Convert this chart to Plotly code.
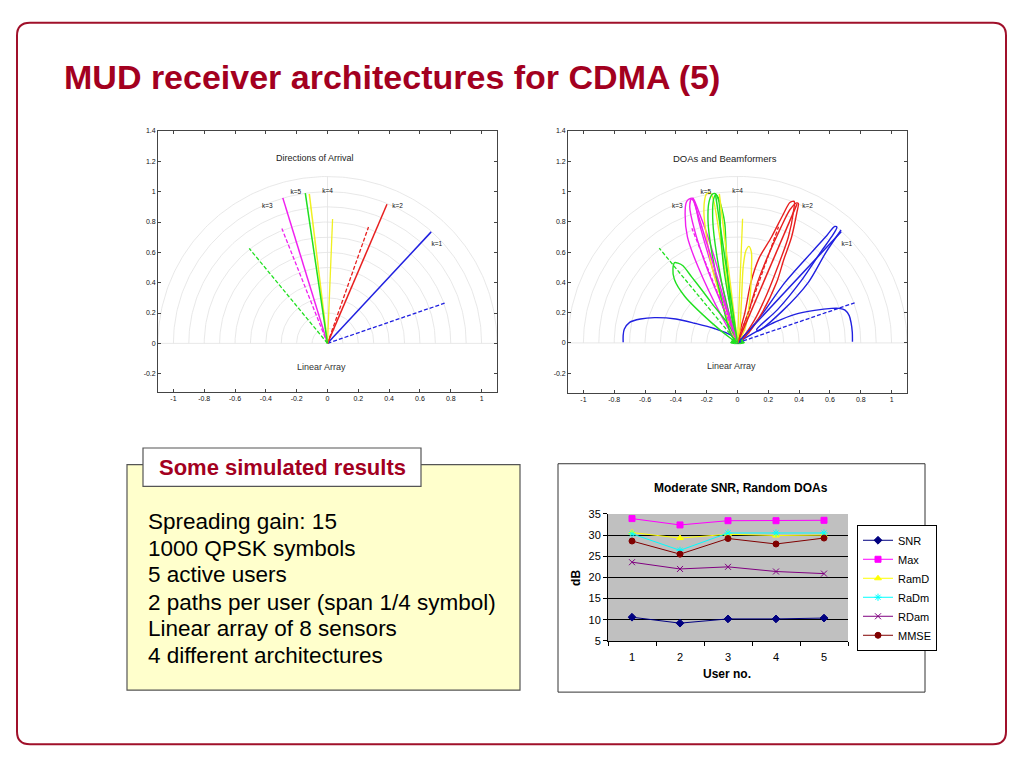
import numpy as np
import plotly.graph_objects as go

# ---------------- data ----------------
TITLE = "MUD receiver architectures for CDMA (5)"

POLAR_X_TICKS = [-1, -0.8, -0.6, -0.4, -0.2, 0, 0.2, 0.4, 0.6, 0.8, 1]
POLAR_X_TEXT = ["-1", "-0.8", "-0.6", "-0.4", "-0.2", "0", "0.2", "0.4", "0.6", "0.8", "1"]
POLAR_Y_TICKS = [-0.2, 0, 0.2, 0.4, 0.6, 0.8, 1, 1.2, 1.4]
POLAR_Y_TEXT = ["-0.2", "0", "0.2", "0.4", "0.6", "0.8", "1", "1.2", "1.4"]
GRID_R = [0.1, 0.2, 0.3, 0.4, 0.5, 0.6, 0.7, 0.8, 0.9, 1.0, 1.1]

USERS = ["k=1", "k=2", "k=3", "k=4", "k=5"]
USER_COLORS = ["#2020e0", "#e82020", "#f020f0", "#f0f020", "#20e020"]
DOA_SOLID_X = [0.673, 0.386, -0.290, -0.118, -0.144]
DOA_SOLID_Y = [0.735, 0.917, 0.959, 0.985, 0.990]
DOA_DASH_X = [0.760, 0.266, -0.296, 0.033, -0.508]
DOA_DASH_Y = [0.265, 0.767, 0.757, 0.820, 0.626]
DOA_DASH_STYLE = ["4px,2px", "4px,2px", "4px,2px", "solid", "4px,2px"]
LABEL_X = [0.71, 0.455, -0.39, 0.0, -0.205]
LABEL_Y = [0.65, 0.90, 0.905, 1.0, 0.995]

# beam pattern outlines (right plot)
BLUE_MAIN_X = [0, 0.09, 0.167, 0.308, 0.482, 0.58, 0.629, 0.645, 0.61, 0.54, 0.42, 0.26, 0.124, 0.135, 0.29, 0.46, 0.575, 0.672]
BLUE_MAIN_Y = [0, 0.10, 0.20, 0.40, 0.60, 0.71, 0.768, 0.765, 0.70, 0.60, 0.42, 0.22, 0.087, 0.08, 0.21, 0.40, 0.60, 0.746]
BLUE_SIDE_R_X = [0.03, 0.113, 0.25, 0.373, 0.5, 0.611, 0.66, 0.698, 0.725, 0.737, 0.745, 0.746]
BLUE_SIDE_R_Y = [0.02, 0.069, 0.14, 0.189, 0.215, 0.228, 0.228, 0.217, 0.18, 0.134, 0.07, 0.008]
BLUE_SIDE_L_X = [0, -0.045, -0.15, -0.278, -0.40, -0.538, -0.63, -0.70, -0.735, -0.742, -0.742]
BLUE_SIDE_L_Y = [0, 0.052, 0.095, 0.130, 0.158, 0.167, 0.158, 0.136, 0.09, 0.048, 0.004]
RED_A_X = [0, 0.048, 0.087, 0.14, 0.221, 0.297, 0.34, 0.368, 0.365, 0.33, 0.26, 0.19, 0.11, 0.03, 0]
RED_A_Y = [0, 0.20, 0.40, 0.56, 0.70, 0.85, 0.928, 0.935, 0.88, 0.70, 0.50, 0.32, 0.15, 0.03, 0]
RED_B_X = [0, 0.07, 0.13, 0.20, 0.28, 0.34, 0.385, 0.395, 0.385, 0.351, 0.30, 0.254, 0.16, 0.05, 0]
RED_B_Y = [0, 0.20, 0.40, 0.58, 0.76, 0.88, 0.925, 0.92, 0.86, 0.70, 0.55, 0.40, 0.20, 0.04, 0]
MAGENTA_A_X = [0, -0.104, -0.256, -0.325, -0.34, -0.332, -0.315, -0.29, -0.278, -0.245, -0.213, -0.126, -0.039, 0]
MAGENTA_A_Y = [0, 0.178, 0.503, 0.70, 0.85, 0.93, 0.95, 0.955, 0.937, 0.85, 0.764, 0.482, 0.134, 0]
MAGENTA_B_X = [0, -0.08, -0.20, -0.28, -0.31, -0.30, -0.28, -0.25, -0.18, -0.10, -0.02, 0]
MAGENTA_B_Y = [0, 0.20, 0.50, 0.75, 0.90, 0.95, 0.93, 0.80, 0.55, 0.30, 0.06, 0]
YELLOW_A_X = [0, -0.03, -0.10, -0.169, -0.217, -0.213, -0.20, -0.175, -0.155, -0.13, -0.10, -0.06, -0.02, 0]
YELLOW_A_Y = [0, 0.06, 0.27, 0.514, 0.84, 0.947, 0.985, 0.99, 0.94, 0.80, 0.60, 0.35, 0.10, 0]
YELLOW_B_X = [0, 0.015, 0.026, 0.037, 0.055, 0.074, 0.09, 0.091, 0.08, 0.048, 0]
YELLOW_B_Y = [0, 0.091, 0.286, 0.503, 0.61, 0.638, 0.60, 0.50, 0.286, 0.091, 0]
GREEN_A_X = [0, -0.039, -0.104, -0.169, -0.191, -0.185, -0.165, -0.148, -0.125, -0.10, -0.082, -0.072, -0.055, -0.039, -0.01, 0]
GREEN_A_Y = [0, 0.048, 0.286, 0.612, 0.80, 0.93, 0.98, 0.988, 0.96, 0.88, 0.785, 0.568, 0.35, 0.178, 0.04, 0]
GREEN_B_X = [0, -0.07, -0.13, -0.16, -0.155, -0.14, -0.12, -0.11, -0.09, -0.05, 0]
GREEN_B_Y = [0, 0.25, 0.55, 0.80, 0.95, 0.98, 0.93, 0.75, 0.50, 0.25, 0]
GREEN_C_X = [0, -0.039, -0.169, -0.343, -0.41, -0.419, -0.408, -0.386, -0.354, -0.299, -0.224, -0.169, -0.072, -0.02, 0]
GREEN_C_Y = [0, 0.026, 0.134, 0.308, 0.42, 0.49, 0.53, 0.527, 0.51, 0.438, 0.34, 0.265, 0.14, 0.05, 0]
GREEN_BASE_X = [-0.045, -0.03, 0, 0.03, 0.045, 0.02, -0.02, -0.045]
GREEN_BASE_Y = [0.0, 0.025, 0.035, 0.025, 0.0, -0.005, -0.005, 0.0]

# Excel chart
USER_NO = [1, 2, 3, 4, 5]
SERIES_NAMES = ["SNR", "Max", "RamD", "RaDm", "RDam", "MMSE"]
SNR = [10.6, 9.2, 10.2, 10.2, 10.4]
MAX = [33.9, 32.4, 33.4, 33.4, 33.5]
RAMD = [30.6, 29.3, 30.2, 29.9, 30.0]
RADM = [30.3, 26.4, 30.5, 30.5, 30.5]
RDAM = [23.6, 22.0, 22.5, 21.4, 20.9]
MMSE = [28.6, 25.5, 29.2, 27.9, 29.3]
SERIES_COLORS = ["#000080", "#ff00ff", "#ffff00", "#00ffff", "#800080", "#800000"]
SERIES_SYMBOLS = ["diamond", "square", "triangle-up", "asterisk-open", "x-thin-open", "circle"]
Y_TICKS = [5, 10, 15, 20, 25, 30, 35]

BOX_LABEL = "Some simulated results"
BOX_LINES = ["Spreading gain: 15", "1000 QPSK symbols", "5 active users",
             "2 paths per user (span 1/4 symbol)", "Linear array of 8 sensors",
             "4 different architectures"]

# ---------------- helpers ----------------
W, H = 1024, 768
FONT = "Liberation Sans, Arial, Helvetica, sans-serif"
DARKRED = "#a3001f"


def PX(x):
    return x / W


def PY(y):
    return 1 - y / H


fig = go.Figure()

# polar grid (semicircles + axes lines)
theta = np.linspace(0, np.pi, 181)
gx, gy = [], []
for r in GRID_R:
    gx += list(r * np.cos(theta)) + [None]
    gy += list(r * np.sin(theta)) + [None]
gx += [0, 0, None, -1.1, 1.1]
gy += [0, 1.1, None, 0, 0]

for xa, ya in [("x", "y"), ("x2", "y2")]:
    fig.add_trace(go.Scatter(x=gx, y=gy, mode="lines", xaxis=xa, yaxis=ya,
                             line=dict(color="#e2e2e2", width=0.8),
                             hoverinfo="skip", showlegend=False))

# right plot lobes
lobes = [
    (BLUE_SIDE_L_X, BLUE_SIDE_L_Y, USER_COLORS[0]),
    (BLUE_SIDE_R_X, BLUE_SIDE_R_Y, USER_COLORS[0]),
    (BLUE_MAIN_X, BLUE_MAIN_Y, USER_COLORS[0]),
    (RED_A_X, RED_A_Y, USER_COLORS[1]),
    (RED_B_X, RED_B_Y, USER_COLORS[1]),
    (MAGENTA_A_X, MAGENTA_A_Y, USER_COLORS[2]),
    (MAGENTA_B_X, MAGENTA_B_Y, USER_COLORS[2]),
    (YELLOW_A_X, YELLOW_A_Y, USER_COLORS[3]),
    (YELLOW_B_X, YELLOW_B_Y, USER_COLORS[3]),
    (GREEN_C_X, GREEN_C_Y, USER_COLORS[4]),
    (GREEN_A_X, GREEN_A_Y, USER_COLORS[4]),
    (GREEN_B_X, GREEN_B_Y, USER_COLORS[4]),
]
for lx, ly, col in lobes:
    fig.add_trace(go.Scatter(x=lx, y=ly, mode="lines", xaxis="x2", yaxis="y2",
                             line=dict(color=col, width=1.4, shape="spline", smoothing=0.8),
                             hoverinfo="skip", showlegend=False))
fig.add_trace(go.Scatter(x=GREEN_BASE_X, y=GREEN_BASE_Y, mode="lines", xaxis="x2", yaxis="y2",
                         fill="toself", fillcolor=USER_COLORS[4],
                         line=dict(color=USER_COLORS[4], width=1),
                         hoverinfo="skip", showlegend=False))

# DOA lines on both plots
for xa, ya in [("x", "y"), ("x2", "y2")]:
    for i in range(len(USERS)):
        fig.add_trace(go.Scatter(x=[0, DOA_DASH_X[i]], y=[0, DOA_DASH_Y[i]], mode="lines",
                                 xaxis=xa, yaxis=ya,
                                 line=dict(color=USER_COLORS[i], width=1.3, dash=DOA_DASH_STYLE[i]),
                                 hoverinfo="skip", showlegend=False))
        fig.add_trace(go.Scatter(x=[0, DOA_SOLID_X[i]], y=[0, DOA_SOLID_Y[i]], mode="lines",
                                 xaxis=xa, yaxis=ya,
                                 line=dict(color=USER_COLORS[i], width=1.5),
                                 hoverinfo="skip", showlegend=False))
    fig.add_trace(go.Scatter(x=LABEL_X, y=LABEL_Y, mode="text", text=USERS,
                             xaxis=xa, yaxis=ya,
                             textfont=dict(family=FONT, size=6.5, color="#111"),
                             hoverinfo="skip", showlegend=False))

# Excel chart series
series = [SNR, MAX, RAMD, RADM, RDAM, MMSE]
for name, vals, col, sym in zip(SERIES_NAMES, series, SERIES_COLORS, SERIES_SYMBOLS):
    fig.add_trace(go.Scatter(x=USER_NO, y=vals, name=name, mode="lines+markers",
                             xaxis="x3", yaxis="y3",
                             line=dict(color=col, width=1),
                             marker=dict(symbol=sym, size=6, color=col,
                                         line=dict(color=col, width=1))))

# ---------------- axes ----------------
polar_axis_common = dict(showgrid=False, zeroline=False, showline=True, linecolor="#444",
                         linewidth=0.8, mirror="ticks", ticks="inside", ticklen=3,
                         tickcolor="#444", tickfont=dict(family=FONT, size=7, color="#111"),
                         fixedrange=True)

layout_axes = dict(
    xaxis=dict(domain=[PX(158), PX(497)], range=[-1.1, 1.1], anchor="y",
               tickvals=POLAR_X_TICKS, ticktext=POLAR_X_TEXT, **polar_axis_common),
    yaxis=dict(domain=[PY(392), PY(127)], range=[-0.32, 1.4], anchor="x",
               tickvals=POLAR_Y_TICKS, ticktext=POLAR_Y_TEXT, **polar_axis_common),
    xaxis2=dict(domain=[PX(568), PX(907)], range=[-1.1, 1.1], anchor="y2",
                tickvals=POLAR_X_TICKS, ticktext=POLAR_X_TEXT, **polar_axis_common),
    yaxis2=dict(domain=[PY(393), PY(127)], range=[-0.33, 1.4], anchor="x2",
                tickvals=POLAR_Y_TICKS, ticktext=POLAR_Y_TEXT, **polar_axis_common),
    xaxis3=dict(domain=[PX(608), PX(848)], range=[0.5, 5.5], anchor="y3",
                tickvals=USER_NO, ticktext=[str(u) for u in USER_NO], ticks="",
                ticklabelstandoff=6,
                showgrid=False, zeroline=False, showline=True, linecolor="black",
                linewidth=1, tickfont=dict(family=FONT, size=11, color="black"),
                minor=dict(tickmode="array", tickvals=[0.5, 1.5, 2.5, 3.5, 4.5, 5.5],
                           ticks="outside", ticklen=4, tickcolor="black", showgrid=False),
                fixedrange=True),
    yaxis3=dict(domain=[PY(645), PY(516)], range=[5, 35], anchor="x3",
                tickvals=Y_TICKS, ticks="outside", ticklen=4, tickcolor="black",
                showgrid=True, gridcolor="black", gridwidth=1, zeroline=False,
                showline=True, linecolor="black", linewidth=1,
                tickfont=dict(family=FONT, size=11, color="black"), fixedrange=True),
)

# ---------------- shapes ----------------
x0, x1, yt, yb = PX(17), PX(1006), PY(17), PY(750)
rx, ry = 13 / W, 13 / H
border_path = (f"M {x0+rx},{yt} L {x1-rx},{yt} Q {x1},{yt} {x1},{yt-ry} "
               f"L {x1},{yb+ry} Q {x1},{yb} {x1-rx},{yb} L {x0+rx},{yb} "
               f"Q {x0},{yb} {x0},{yb+ry} L {x0},{yt-ry} Q {x0},{yt} {x0+rx},{yt} Z")

shapes = [
    dict(type="path", path=border_path, xref="paper", yref="paper",
         line=dict(color="#a0102a", width=2), layer="below"),
    dict(type="rect", xref="paper", yref="paper", x0=PX(127), x1=PX(520), y0=PY(695), y1=PY(466),
         fillcolor="#ffffcc", line=dict(color="#555", width=1.2), layer="below"),
    dict(type="rect", xref="paper", yref="paper", x0=PX(143), x1=PX(421), y0=PY(488), y1=PY(449),
         fillcolor="white", line=dict(color="#555", width=1.2), layer="below"),
    dict(type="rect", xref="paper", yref="paper", x0=PX(558), x1=PX(925), y0=PY(697), y1=PY(465),
         fillcolor="white", line=dict(color="#333", width=1), layer="below"),
    dict(type="rect", xref="paper", yref="paper", x0=PX(608), x1=PX(848), y0=PY(645), y1=PY(516),
         fillcolor="#c0c0c0", line=dict(width=0), layer="below"),
]

# ---------------- annotations ----------------
ann = [
    dict(text="<b>" + TITLE + "</b>", x=PX(62), y=PY(72), xanchor="left", yanchor="middle",
         font=dict(family=FONT, size=34, color=DARKRED)),
    dict(text="Directions of Arrival", x=-0.08, y=1.22, xref="x", yref="y",
         font=dict(family=FONT, size=9, color="#222")),
    dict(text="Linear Array", x=-0.04, y=-0.155, xref="x", yref="y",
         font=dict(family=FONT, size=9, color="#333")),
    dict(text="DOAs and Beamformers", x=-0.08, y=1.22, xref="x2", yref="y2",
         font=dict(family=FONT, size=9.5, color="#222")),
    dict(text="Linear Array", x=-0.04, y=-0.155, xref="x2", yref="y2",
         font=dict(family=FONT, size=9, color="#333")),
    dict(text="<b>" + BOX_LABEL + "</b>", x=PX(282), y=PY(469),
         font=dict(family=FONT, size=22, color=DARKRED)),
    dict(text="<b>Moderate SNR, Random DOAs</b>", x=PX(741), y=PY(490),
         font=dict(family=FONT, size=12, color="black")),
    dict(text="<b>dB</b>", x=PX(576), y=PY(581), textangle=-90,
         font=dict(family=FONT, size=12, color="black")),
    dict(text="<b>User no.</b>", x=PX(727), y=PY(679),
         font=dict(family=FONT, size=12, color="black")),
]
LINE_Y = [524, 551, 578, 605.5, 632.5, 660]
for txt, yy in zip(BOX_LINES, LINE_Y):
    ann.append(dict(text=txt, x=PX(146), y=PY(yy), xanchor="left", yanchor="middle",
                    font=dict(family=FONT, size=22.5, color="black")))
for a in ann:
    a.setdefault("xref", "paper")
    a.setdefault("yref", "paper")
    a.setdefault("xanchor", "center")
    a.setdefault("yanchor", "middle")
    a.setdefault("showarrow", False)

fig.update_layout(
    width=W, height=H, autosize=False,
    margin=dict(l=0, r=0, t=0, b=0, pad=0),
    paper_bgcolor="white", plot_bgcolor="rgba(0,0,0,0)",
    shapes=shapes, annotations=ann,
    showlegend=True,
    legend=dict(x=PX(857), y=PY(527), xanchor="left", yanchor="top",
                bgcolor="white", bordercolor="black", borderwidth=1,
                font=dict(family=FONT, size=11, color="black"),
                itemwidth=30, tracegroupgap=0),
    **layout_axes,
)

fig.write_html("out.html", config={"displayModeBar": False},
               post_script="document.body.style.margin='0';")
